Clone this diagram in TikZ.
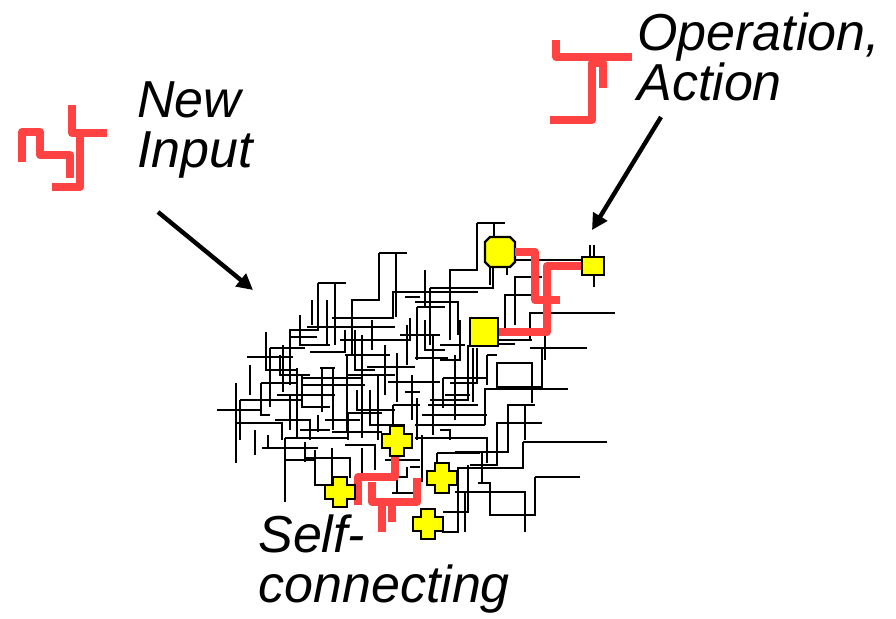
\documentclass[tikz,border=0pt]{standalone}
\usepackage{fontspec}
\setmainfont{Liberation Sans}
\usetikzlibrary{arrows.meta}
\definecolor{wirered}{RGB}{255,66,66}
\definecolor{blobyellow}{RGB}{255,255,0}
\tikzset{
  wire/.style={line width=1.3pt},
  redwire/.style={draw=wirered,line width=4pt,line join=round},
  blob/.style={draw,fill=blobyellow,line width=1.1pt,inner sep=0pt},
  pointer/.style={line width=2.2pt,-{Triangle[length=8pt,width=8pt]}},
  tag/.style={font=\fontsize{26}{25}\selectfont\itshape,align=left,inner sep=0pt,anchor=base west},
  crossblob/.pic={\draw[blob] (-7,-15) -- (7,-15) -- (7,-7) -- (15,-7) -- (15,7) -- (7,7)
    -- (7,15) -- (-7,15) -- (-7,7) -- (-15,7) -- (-15,-7) -- (-7,-7) -- cycle;},
  octblob/.pic={\draw[blob] (-10,-15) -- (10,-15) -- (15,-10) -- (15,10) -- (10,15)
    -- (-10,15) -- (-15,10) -- (-15,-10) -- cycle;}
}
\begin{document}
\begin{tikzpicture}[x=0.5pt,y=-0.5pt]
\useasboundingbox (0,0) rectangle (896,618);
% labels, anchored at the last line
\node[tag] (newin) at (137,167) {New\\Input};
\node[tag] (oper) at (637,100) {Operation,\\Action};
\node[tag] (self) at (258,602) {Self-\\connecting};
% small icons
\draw[redwire] (22,162) -- (22,132) -- (40,132) -- (40,155) -- (70,155) -- (70,178);
\draw[redwire] (72,105) -- (72,133) -- (107,133);
\draw[redwire] (80,130) -- (80,187) -- (52,187);
\draw[redwire] (556,40) -- (556,57) -- (632,57);
\draw[redwire] (550,120) -- (592,120) -- (592,63) -- (603,63) -- (603,88);
% the tangle, upper part
\draw[wire] (477,223) -- (505,223) (477,223) -- (477,270) -- (450,270) -- (450,340)
  (494,223) -- (494,237)
  (379,253) -- (407,253) (379,253) -- (379,300) -- (352,300) -- (352,355)
  (396,253) -- (396,317)
  (318,283) -- (346,283) (318,283) -- (318,330) -- (290,330) -- (290,385)
  (335,283) -- (335,345) (327,300) -- (327,345)
  (405,297) -- (420,297)
  (332,318) -- (393,318) -- (393,292) -- (478,292)
  (307,327) -- (395,327)
  (430,288) -- (493,288) -- (493,267) (490,267) -- (490,285) (507,267) -- (507,275)
  (515,260) -- (582,260)
  (515,325) -- (515,277) -- (542,277)
  (505,332) -- (505,295) -- (532,295)
  (530,340) -- (530,313) -- (615,313)
  (415,302) -- (458,302) -- (458,335)
  (430,288) -- (430,345) (425,270) -- (425,308)
  (417,307) -- (445,307) (417,307) -- (417,360) (407,325) -- (407,365)
  (590,245) -- (590,257) (594,245) -- (594,257) (594,275) -- (594,287)
  (312,300) -- (312,325) (340,340) -- (375,340)
  (365,340) -- (410,340) -- (410,318) (400,335) -- (440,335)
  (440,345) -- (465,345) (460,320) -- (460,360) -- (440,360)
  (372,320) -- (372,350) (425,320) -- (425,350) -- (445,350);
% right middle
\draw[wire] (530,348) -- (587,348) (545,333) -- (545,360)
  (542,348) -- (542,387) -- (497,387) -- (497,363) -- (532,363) -- (532,403)
  (485,425) -- (485,389) -- (568,389)
  (508,440) -- (508,405) -- (535,405) (525,405) -- (525,440)
  (497,440) -- (497,423) -- (542,423)
  (468,345) -- (468,400) -- (430,400)
  (443,378) -- (488,378) (443,378) -- (443,408)
  (450,383) -- (478,383) (428,405) -- (478,405) (422,415) -- (487,415)
  (473,348) -- (473,402) (477,348) -- (477,383)
  (487,355) -- (487,385) (487,355) -- (497,355)
  (498,340) -- (532,340) (498,344) -- (515,344)
  (433,335) -- (433,435) (415,358) -- (448,358)
  (415,425) -- (485,425)
  (440,430) -- (450,430) -- (450,440)
  (415,438) -- (487,438) -- (487,463)
  (455,355) -- (455,420) (412,375) -- (412,420) (388,382) -- (440,382)
  (445,395) -- (470,395);
% lower right
\draw[wire] (523,442) -- (607,442) (523,442) -- (523,468) -- (458,468) -- (458,532) -- (442,532)
  (535,477) -- (580,477) (535,477) -- (535,515) -- (490,515) -- (490,483) -- (478,483)
  (455,492) -- (525,492) -- (525,532)
  (468,465) -- (468,512) -- (443,512) (465,492) -- (465,532)
  (497,435) -- (497,465) -- (470,465)
  (482,452) -- (482,483) (455,452) -- (508,452) -- (508,435)
  (437,453) -- (437,465) (437,453) -- (480,453)
  (422,435) -- (422,482);
% left middle
\draw[wire] (247,357) -- (293,357)
  (266,332) -- (266,370) -- (297,370)
  (270,348) -- (305,348) (270,348) -- (270,407)
  (236,383) -- (236,463) (217,410) -- (262,410)
  (240,400) -- (302,400) (240,400) -- (240,440)
  (261,383) -- (297,383) (261,383) -- (261,415) -- (270,415)
  (277,395) -- (335,395)
  (297,368) -- (297,438) (302,375) -- (302,408)
  (320,368) -- (335,368) (322,368) -- (322,412)
  (237,423) -- (282,423) -- (282,440)
  (303,407) -- (330,407) (302,378) -- (363,378) (303,385) -- (365,385)
  (333,368) -- (333,430) (347,355) -- (347,433) (362,335) -- (362,438)
  (345,355) -- (390,355) (367,367) -- (415,367) (347,375) -- (395,375)
  (378,375) -- (378,440)
  (393,405) -- (420,405) (393,405) -- (393,428)
  (397,353) -- (397,402)
  (348,413) -- (382,413) (348,413) -- (348,440)
  (332,432) -- (382,432) (405,392) -- (420,392) (417,398) -- (417,440)
  (290,337) -- (317,337)
  (300,315) -- (300,345) -- (330,345) (283,345) -- (283,392)
  (310,352) -- (345,352) -- (345,330) (355,330) -- (355,370) -- (375,370)
  (385,345) -- (385,395) (370,390) -- (370,425) -- (405,425)
  (275,420) -- (310,420) -- (310,440) (290,395) -- (290,430)
  (325,420) -- (360,420) (250,365) -- (250,395)
  (280,355) -- (280,375) -- (310,375) (357,390) -- (357,410) -- (395,410)
  (318,415) -- (318,432) (300,430) -- (330,430);
% lower left
\draw[wire] (262,448) -- (318,448) (268,435) -- (268,448)
  (285,438) -- (285,502) (285,438) -- (348,438)
  (285,460) -- (315,460) (315,450) -- (315,485) -- (327,485)
  (332,448) -- (332,485) (305,442) -- (305,462)
  (305,458) -- (350,458) -- (350,478) (362,448) -- (362,475)
  (397,478) -- (397,493) (392,493) -- (420,493)
  (397,477) -- (407,477) -- (407,467) (410,467) -- (420,467)
  (255,430) -- (255,455) (345,445) -- (375,445) -- (375,470) (385,460) -- (420,460);
% yellow nodes
\node[minimum size=15pt,inner sep=0pt] (oct) at (500,252) {};
\pic at (oct) {octblob};
\node[blob,minimum width=11pt,minimum height=9pt] (sq) at (593,266) {};
\node[blob,minimum size=14pt] (bsq) at (484,332) {};
\coordinate (c1) at (397,441);
\coordinate (c2) at (340,492);
\coordinate (c3) at (442,478);
\coordinate (c4) at (428,524);
% red paths
\draw[redwire] (oct.east) -| (535,300) -- (560,300);
\draw[redwire] (sq.west) -| (547,332) -- (bsq.east);
\draw[redwire] (c1) ++(-2,15) |- (358,477) -- (358,505);
\draw[redwire] (372,482) -- (372,502) -- (417,502) -- (417,478);
\draw[redwire] (382,502) -- (382,532) (392,502) -- (392,522);
\foreach \c in {c1,c2,c3,c4}
  \pic at (\c) {crossblob};
% arrows
\coordinate (newtail) at (158,212);
\coordinate (newtip) at (253,290);
\coordinate (optail) at (661,117);
\coordinate (optip) at (592,230);
\draw[pointer] (newtail) -- (newtip);
\draw[pointer] (optail) -- (optip);
\end{tikzpicture}
\end{document}
